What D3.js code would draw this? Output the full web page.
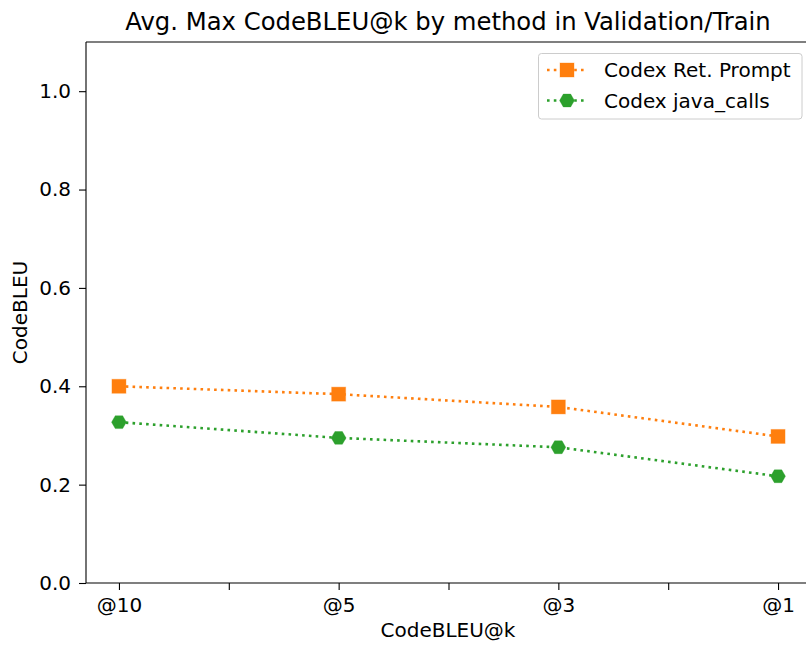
<!DOCTYPE html>
<html>
<head>
<meta charset="utf-8">
<script src="https://cdn.jsdelivr.net/npm/d3@7"></script>
<style>
  body { margin: 0; background: #fff; }
  svg { display: block; font-family: "DejaVu Sans", sans-serif; }
</style>
</head>
<body>
<svg id="chart" width="806" height="645"></svg>
<script>
// Categories along the x axis
const categories = ["@10", "@5", "@3", "@1"];
// Series values (average max CodeBLEU)
const retPrompt = [0.400, 0.384, 0.358, 0.298];
const javaCalls = [0.327, 0.295, 0.276, 0.217];
const seriesNames = ["Codex Ret. Prompt", "Codex java_calls"];
const yTicks = [0.0, 0.2, 0.4, 0.6, 0.8, 1.0];

const svg = d3.select("#chart");
const plotLeft = 86, plotTop = 42, plotBottom = 583, plotRight = 811;
const fontSize = 20;

const x = d3.scaleLinear().domain([-0.15, 3.15]).range([plotLeft, plotRight]);
const y = d3.scaleLinear().domain([0, 1.1]).range([plotBottom, plotTop]);

// Axes
const xAxis = d3.axisBottom(x)
  .tickValues([0, 0.5, 1, 1.5, 2, 2.5, 3])
  .tickSize(7).tickPadding(8)
  .tickFormat(d => Number.isInteger(d) ? categories[d] : "");
const gx = svg.append("g").attr("transform", `translate(0,${plotBottom})`).call(xAxis);
const yAxis = d3.axisLeft(y).tickValues(yTicks).tickSize(7).tickPadding(8)
  .tickFormat(d3.format(".1f"));
const gy = svg.append("g").attr("transform", `translate(${plotLeft},0)`).call(yAxis);
[gx, gy].forEach(g => {
  g.select(".domain").remove();
  g.selectAll("line").attr("stroke", "#000").attr("stroke-width", 1.1);
  g.selectAll("text").attr("font-size", fontSize).attr("fill", "#000")
    .attr("font-family", "DejaVu Sans, sans-serif");
});

// Spines
svg.append("line").attr("x1", plotLeft).attr("x2", plotLeft).attr("y1", plotTop).attr("y2", plotBottom)
  .attr("stroke", "#000").attr("stroke-width", 1.1);
svg.append("line").attr("x1", plotLeft).attr("x2", plotRight).attr("y1", plotBottom).attr("y2", plotBottom)
  .attr("stroke", "#000").attr("stroke-width", 1.1);
svg.append("line").attr("x1", plotLeft).attr("x2", plotRight).attr("y1", plotTop).attr("y2", plotTop)
  .attr("stroke", "#000").attr("stroke-width", 1.1);

// Titles
svg.append("text").attr("x", 448).attr("y", 30).attr("text-anchor", "middle")
  .attr("font-size", 24.3).text("Avg. Max CodeBLEU@k by method in Validation/Train");
svg.append("text").attr("x", 448).attr("y", 637).attr("text-anchor", "middle")
  .attr("font-size", fontSize).text("CodeBLEU@k");
svg.append("text").attr("transform", `translate(27,${(plotTop + plotBottom) / 2}) rotate(-90)`)
  .attr("text-anchor", "middle").attr("font-size", fontSize).text("CodeBLEU");

const line = d3.line().x((d, i) => x(i)).y(d => y(d));
const hexPath = (r) => {
  const pts = d3.range(6).map(k => {
    const a = k * Math.PI / 3;
    return [r * Math.cos(a), r * Math.sin(a)];
  });
  return "M" + pts.map(p => p.join(",")).join("L") + "Z";
};

function drawMarker(g, kind, color, cx, cy) {
  if (kind === "square") {
    g.append("rect").attr("x", cx - 7).attr("y", cy - 7).attr("width", 14).attr("height", 14)
      .attr("fill", color).attr("stroke", color).attr("stroke-opacity", 0.35).attr("stroke-width", 1);
  } else {
    g.append("path").attr("d", hexPath(7.4)).attr("transform", `translate(${cx},${cy})`)
      .attr("fill", color).attr("stroke", color).attr("stroke-opacity", 0.35).attr("stroke-width", 1);
  }
}

const series = [
  { name: seriesNames[0], values: retPrompt, color: "#ff7f0e", marker: "square" },
  { name: seriesNames[1], values: javaCalls, color: "#2ca02c", marker: "hex" }
];

series.forEach(s => {
  svg.append("path").attr("d", line(s.values)).attr("fill", "none")
    .attr("stroke", s.color).attr("stroke-width", 2.6).attr("stroke-dasharray", "2.6,4.2");
  const g = svg.append("g");
  s.values.forEach((v, i) => drawMarker(g, s.marker, s.color, x(i), y(v)));
});

// Legend
const lg = svg.append("g");
lg.append("rect").attr("x", 538.5).attr("y", 53.5).attr("width", 263.5).attr("height", 65.5)
  .attr("rx", 3).attr("fill", "#fff").attr("fill-opacity", 0.8)
  .attr("stroke", "#ccc").attr("stroke-width", 1);
series.forEach((s, i) => {
  const cy = 70 + i * 30.5;
  lg.append("line").attr("x1", 547).attr("x2", 587).attr("y1", cy).attr("y2", cy)
    .attr("stroke", s.color).attr("stroke-width", 2.6).attr("stroke-dasharray", "2.6,4.2");
  drawMarker(lg, s.marker, s.color, 567, cy);
  lg.append("text").attr("x", 604).attr("y", cy + 7).attr("font-size", fontSize).text(s.name);
});
</script>
</body>
</html>
